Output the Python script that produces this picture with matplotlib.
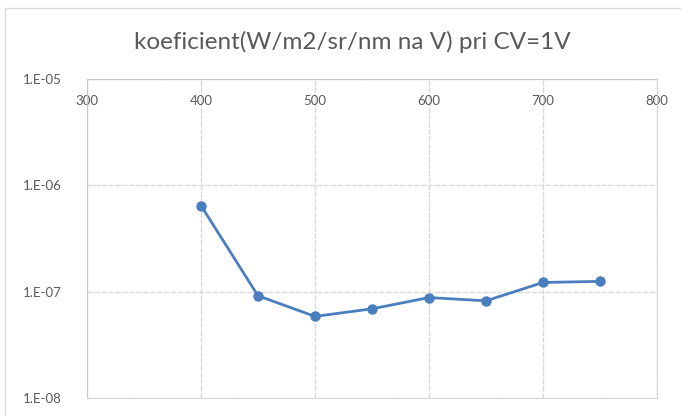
import matplotlib.pyplot as plt
from matplotlib.patches import Rectangle

# wavelength (nm) and coefficient values
wavelength = [400, 450, 500, 550, 600, 650, 700, 750]
koeficient = [6.45e-7, 9.15e-8, 5.85e-8, 6.9e-8, 8.8e-8, 8.2e-8, 1.22e-7, 1.25e-7]

x_ticks = [300, 400, 500, 600, 700, 800]
y_ticks = [1e-8, 1e-7, 1e-6, 1e-5]
y_labels = ["1.E-08", "1.E-07", "1.E-06", "1.E-05"]

title = "koeficient(W/m2/sr/nm na V) pri CV=1V"

plt.rcParams['font.family'] = ['Lato', 'DejaVu Sans']

fig = plt.figure(figsize=(6.81, 4.16), dpi=100)
fig.patches.append(Rectangle((5 / 681, -0.1), 1.2, 1.1 - 8 / 416,
                             transform=fig.transFigure, fill=False,
                             edgecolor='#d9d9d9', lw=1))

ax = fig.add_axes([87 / 681, 1 - 398 / 416, 570 / 681, 319 / 416])
ax.set_yscale('log')
ax.set_xlim(300, 800)
ax.set_ylim(1e-8, 1e-5)

ax.plot(wavelength, koeficient, color='#4a7ebf', lw=2, marker='o',
        markersize=6.5, zorder=3)

ax.set_xticks(x_ticks)
ax.set_xticklabels([str(t) for t in x_ticks])
ax.set_yticks(y_ticks)
ax.set_yticklabels(y_labels)
ax.minorticks_off()

ax.xaxis.tick_top()
ax.tick_params(axis='x', length=0, pad=-20, labelsize=9.5, labelcolor='#595959')
ax.tick_params(axis='y', length=0, pad=18, labelsize=9.5, labelcolor='#595959')

ax.grid(True, color='#d9d9d9', lw=1, linestyle=(0, (4, 1)))
for side in ['left', 'top']:
    ax.spines[side].set_color('#c8c8c8')
for side in ['right', 'bottom']:
    ax.spines[side].set_color('#d6d6d6')

fig.text(352 / 681, 1 - 42 / 416, title, ha='center', va='center',
         fontsize=17.5, color='#595959')

fig.savefig('out.png', dpi=100)
